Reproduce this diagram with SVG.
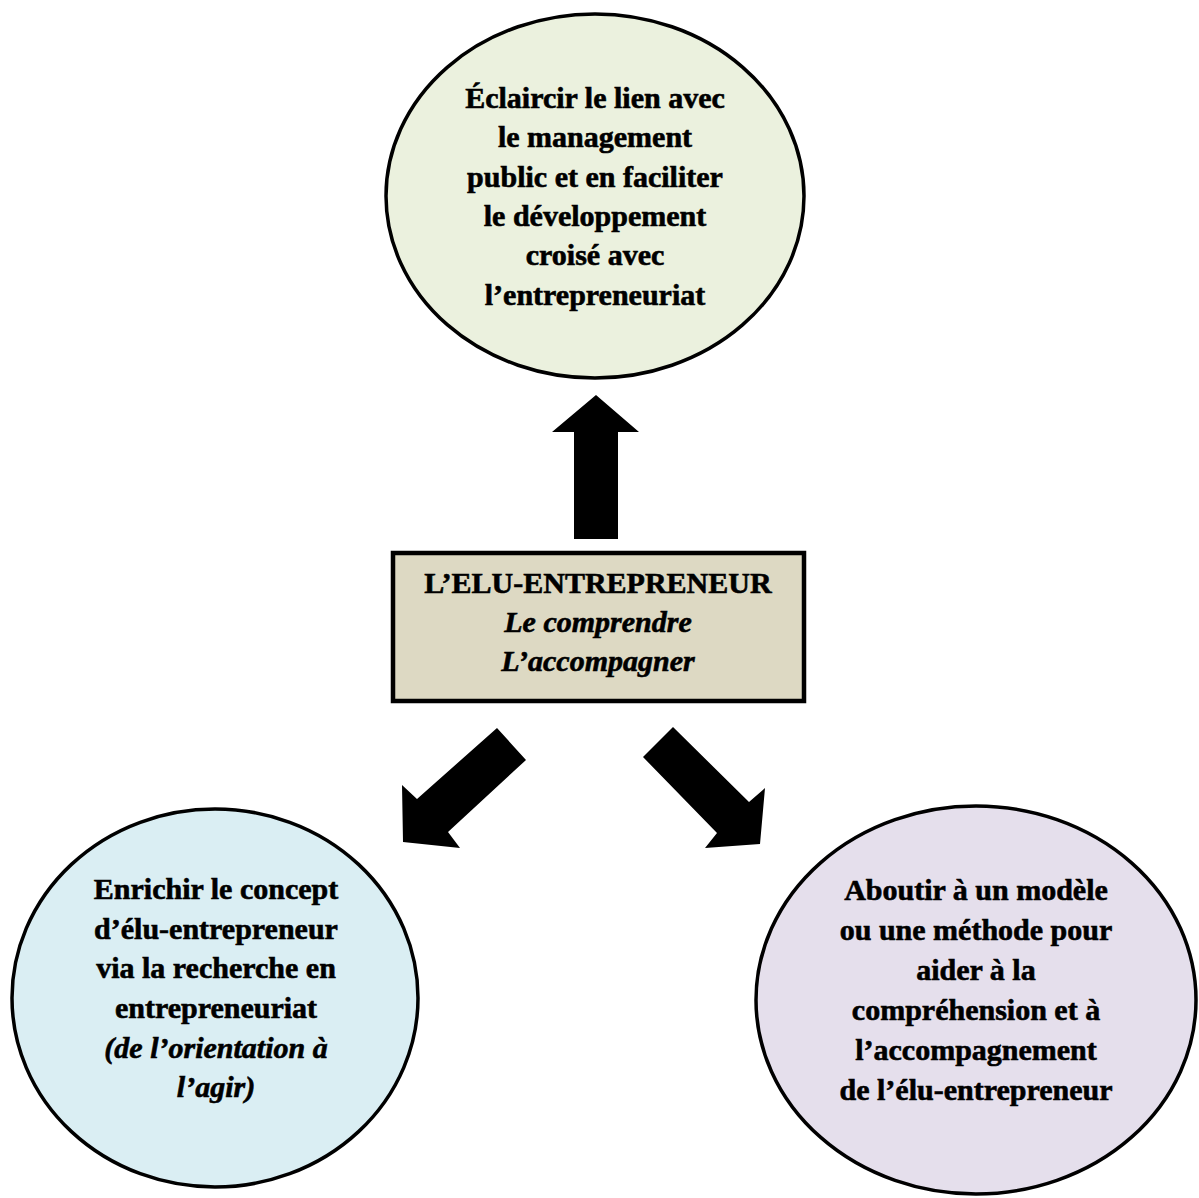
<svg xmlns="http://www.w3.org/2000/svg" width="1199" height="1198" viewBox="0 0 1199 1198">
<style>
.node{stroke:#000;stroke-width:3.5}
.t{font-family:"Liberation Serif","Times New Roman",serif;font-size:30px;font-weight:bold;fill:#000;stroke:#000;stroke-width:0.6;text-anchor:middle}
.i{font-style:italic}
.arrow{fill:#000}
</style>
<rect width="1199" height="1198" fill="#fff"/>
<g id="top">
<ellipse class="node" cx="595" cy="196" rx="209" ry="182" fill="#EBF1DE"/>
<text class="t" x="595" y="108">Éclaircir le lien avec</text>
<text class="t" x="595" y="147">le management</text>
<text class="t" x="595" y="187">public et en faciliter</text>
<text class="t" x="595" y="226">le développement</text>
<text class="t" x="595" y="265">croisé avec</text>
<text class="t" x="595" y="305">l’entrepreneuriat</text>
</g>
<g id="center">
<rect x="393" y="553" width="411" height="148" fill="#DDD9C3" stroke="#000" stroke-width="4.5"/>
<text class="t" x="598" y="593">L’ELU-ENTREPRENEUR</text>
<text class="t i" x="598" y="632">Le comprendre</text>
<text class="t i" x="598" y="671">L’accompagner</text>
</g>
<g id="left">
<ellipse class="node" cx="215" cy="998" rx="203" ry="189" fill="#DAEEF3"/>
<text class="t" x="216" y="899">Enrichir le concept</text>
<text class="t" x="216" y="939">d’élu-entrepreneur</text>
<text class="t" x="216" y="978">via la recherche en</text>
<text class="t" x="216" y="1018">entrepreneuriat</text>
<text class="t i" x="216" y="1058">(de l’orientation à</text>
<text class="t i" x="216" y="1097">l’agir)</text>
</g>
<g id="right">
<ellipse class="node" cx="976" cy="1000" rx="220" ry="194" fill="#E5DFEC"/>
<text class="t" x="976" y="900">Aboutir à un modèle</text>
<text class="t" x="976" y="940">ou une méthode pour</text>
<text class="t" x="976" y="980">aider à la</text>
<text class="t" x="976" y="1020">compréhension et à</text>
<text class="t" x="976" y="1060">l’accompagnement</text>
<text class="t" x="976" y="1100">de l’élu-entrepreneur</text>
</g>
<g id="connectors">
<polygon class="arrow" points="596,395 639,432 618,432 618,539 574,539 574,432 552,432"/>
<polygon class="arrow" points="497,728 526,760 448,832 460,848 403,842 402,785 417,799"/>
<polygon class="arrow" points="673,727 643,757 717,833 705,848 760,844 765,788 749,802"/>
</g>
</svg>
